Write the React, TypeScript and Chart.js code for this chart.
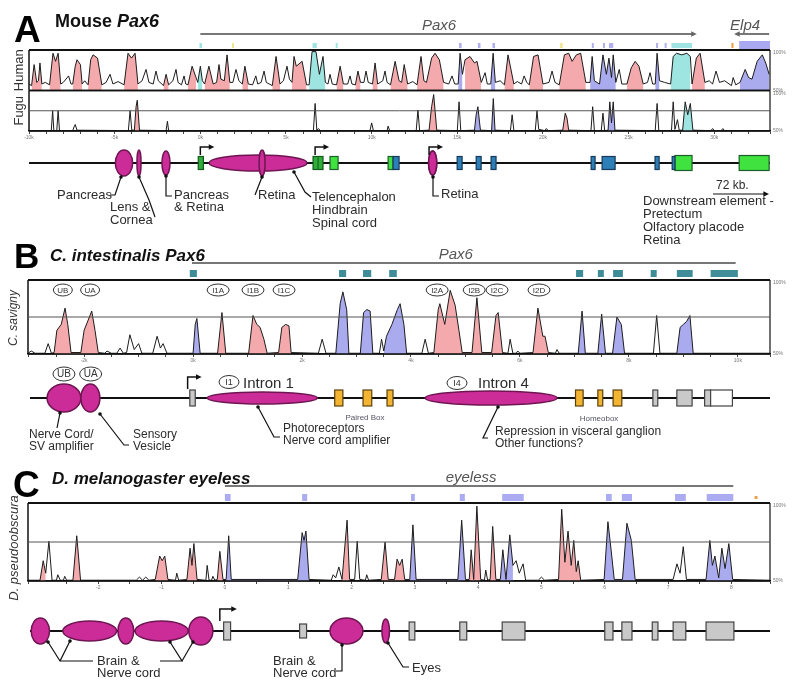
import React, { useEffect, useRef } from "react";
import { Chart, registerables } from "chart.js";
Chart.register(...registerables);

const SANS = '"Liberation Sans", Arial, Helvetica, sans-serif';
const INK = "#2b2b2b";
const PINK = "rgba(243,163,166,0.92)";
const BLUE = "rgba(163,163,238,0.92)";
const CYAN = "rgba(150,226,222,0.92)";
const MAG = "#cb2c98";
const MAG_EDGE = "#6e1652";

// ================= Panel A : Mouse Pax6 (kb) =================
const aTickVals = [-10, -5, 0, 5, 10, 15, 20, 25, 30];
const aTickText = ["-10k", "-5k", "0k", "5k", "10k", "15k", "20k", "25k", "30k"];
const humanCurve = [
  [-10, 58], [-9.85, 56], [-9.7, 82], [-9.55, 60], [-9.45, 62], [-9.36, 84], [-9.25, 58],
  [-9.05, 60], [-8.8, 57], [-8.6, 96], [-8.45, 86], [-8.3, 96], [-8.15, 58], [-8.0, 60], [-7.69, 68], [-7.55, 58],
  [-7.45, 58], [-7.3, 80], [-7.2, 88], [-7.0, 82], [-6.9, 58], [-6.75, 62],
  [-6.55, 57], [-6.4, 88], [-6.26, 94], [-6.0, 90], [-5.75, 57], [-5.5, 60], [-5.27, 70], [-5.1, 58],
  [-4.8, 61], [-4.45, 57], [-4.22, 96], [-4.02, 90], [-3.81, 96], [-3.64, 58], [-3.4, 62], [-3.17, 76], [-3.0, 60],
  [-2.75, 58], [-2.59, 74], [-2.45, 62], [-2.15, 56], [-2.0, 70], [-1.85, 57], [-1.6, 62], [-1.42, 76], [-1.3, 60],
  [-1.1, 57], [-0.95, 68], [-0.85, 58], [-0.72, 57], [-0.48, 80], [-0.25, 66], [-0.15, 60], [0.0, 80], [0.12, 62],
  [0.25, 58], [0.5, 80], [0.75, 58], [0.95, 60], [1.09, 82], [1.2, 64], [1.4, 62], [1.56, 94], [1.72, 60],
  [1.9, 60], [2.08, 76], [2.25, 62], [2.45, 58], [2.6, 80], [2.8, 58], [3.05, 57], [3.24, 68], [3.35, 58],
  [3.55, 60], [3.72, 74], [3.85, 60], [4.2, 56], [4.42, 92], [4.65, 58], [4.85, 62], [5.06, 80], [5.2, 64],
  [5.35, 60], [5.47, 92], [5.6, 80], [5.94, 86], [6.2, 57], [6.35, 57], [6.52, 98], [6.75, 98], [6.95, 70], [7.16, 92], [7.3, 60],
  [7.45, 58], [7.57, 70], [7.7, 58], [7.95, 57], [8.16, 80], [8.35, 58], [8.6, 58], [8.74, 68], [8.85, 58],
  [9.05, 57], [9.2, 74], [9.35, 60], [9.55, 60], [9.67, 74], [9.8, 60], [10.05, 58], [10.2, 84], [10.35, 58],
  [10.65, 62], [10.78, 74], [10.9, 60], [11.1, 57], [11.37, 86], [11.6, 62], [11.75, 60], [11.9, 82], [12.1, 58],
  [12.4, 61], [12.65, 57], [12.88, 92], [13.05, 62], [13.2, 60], [13.5, 90], [13.7, 96], [13.95, 88], [14.2, 60],
  [14.5, 58], [14.69, 68], [14.85, 58], [15.05, 58], [15.16, 96], [15.3, 70], [15.45, 88], [15.74, 92], [16.0, 84], [16.15, 86], [16.4, 60],
  [16.62, 72], [16.75, 58], [16.95, 58], [17.09, 96], [17.22, 60], [17.5, 62], [17.75, 57], [17.96, 94], [18.3, 58],
  [18.5, 61], [18.75, 58], [18.9, 68], [19.05, 60], [19.2, 57], [19.45, 92], [19.71, 94], [20.0, 58],
  [20.35, 60], [20.53, 74], [20.7, 60], [20.95, 57], [21.25, 94], [21.5, 96], [21.7, 86], [21.95, 94], [22.2, 96], [22.5, 60],
  [22.75, 60], [22.87, 92], [23.0, 62], [23.3, 58], [23.5, 94], [23.7, 70], [23.85, 90], [24.0, 66], [24.1, 94], [24.25, 60],
  [24.45, 76], [24.6, 58], [24.9, 58], [25.15, 78], [25.38, 86], [25.6, 80], [25.85, 58], [26.1, 60], [26.25, 72], [26.4, 58],
  [26.55, 58], [26.66, 96], [26.8, 62], [27.1, 60], [27.45, 58], [27.6, 92], [27.8, 96], [28.1, 94], [28.4, 96], [28.6, 92],
  [28.7, 58], [28.95, 90], [29.17, 96], [29.45, 60], [29.7, 62], [29.9, 58], [30.1, 74], [30.3, 60], [30.6, 62],
  [31.0, 56], [31.1, 66], [31.25, 57], [31.5, 60], [31.8, 76], [32.0, 66], [32.2, 64], [32.5, 86], [32.8, 94], [33.0, 84], [33.2, 70],
];
const humanPink = [[-9.85, -9.25], [-8.8, -8.15], [-7.45, -6.9], [-6.55, -5.75], [-4.45, -3.64], [-2.15, -1.85], [-0.72, -0.25], [0.25, 0.75], [0.95, 1.72], [2.45, 2.8], [4.2, 4.65], [5.35, 6.2], [7.95, 8.35], [9.05, 9.35], [10.05, 10.35], [11.1, 12.1], [12.65, 14.2], [15.45, 16.4], [17.75, 18.3], [19.2, 20.0], [20.95, 22.5], [24.9, 25.85], [28.7, 29.45]];
const humanBlue = [[15.05, 15.3], [16.95, 17.22], [22.75, 23.0], [23.3, 24.25], [26.55, 26.8], [31.5, 33.2]];
const humanCyan = [[-0.15, 0.12], [6.35, 7.3], [27.45, 28.6]];

const fuguCurve = [
  [-10, 50.5], [-8.7, 50.5], [-8.62, 75], [-8.55, 50.5], [-8.38, 50.5], [-8.3, 75], [-8.22, 50.5],
  [-7.45, 50.5], [-7.35, 56], [-7.3, 58], [-7.2, 51],
  [-4.2, 50.5], [-4.1, 75], [-4.0, 51], [-3.85, 51], [-3.75, 80], [-3.68, 88], [-3.55, 51],
  [-2.0, 50.5], [-1.92, 62], [-1.85, 50.5],
  [6.6, 50.5], [6.7, 84], [6.8, 51], [6.9, 53], [7.0, 50.5],
  [9.9, 50.5], [10.0, 60], [10.1, 50.5], [10.9, 50.5], [10.96, 56], [11.05, 50.5],
  [12.6, 50.5], [12.7, 76], [12.8, 50.5], [13.35, 51], [13.5, 80], [13.62, 95], [13.8, 51],
  [15.0, 50.5], [15.1, 86], [15.2, 50.5], [16.0, 51], [16.1, 70], [16.2, 80], [16.3, 60], [16.35, 51],
  [17.0, 50.5], [17.1, 90], [17.2, 51], [18.1, 50.5], [18.2, 70], [18.3, 50.5],
  [19.55, 50.5], [19.65, 75], [19.75, 52], [20.1, 50.5], [20.2, 53], [20.3, 50.5],
  [21.15, 51], [21.3, 72], [21.4, 66], [21.5, 51],
  [22.8, 50.5], [22.9, 80], [23.0, 50.5], [23.4, 50.5], [23.5, 72], [23.6, 50.5], [23.8, 51], [23.9, 86], [24.0, 60], [24.1, 86], [24.2, 51],
  [26.55, 50.5], [26.66, 84], [26.76, 50.5], [27.5, 50.5], [27.6, 86], [27.7, 52], [27.85, 64], [27.95, 51], [28.15, 51], [28.3, 86], [28.45, 70], [28.6, 84], [28.75, 51],
  [29.8, 50.5], [29.9, 53], [30.0, 50.5], [30.4, 50.5], [30.5, 53], [30.6, 50.5], [33.25, 50.5],
];
const fuguPink = [[-3.85, -3.55], [13.35, 13.8], [21.15, 21.5]];
const fuguBlue = [[16.0, 16.35], [17.0, 17.2], [23.8, 24.2]];
const fuguCyan = [[28.15, 28.75]];

const aGenes = [
  { name: "Pax6", start: 0, end: 28.8, dir: 1 },
  { name: "Elp4", start: 31.33, end: 33.2, dir: -1 },
];
const aMarks = [[-0.05, 0.1, "c"], [1.85, 1.95, "y"], [6.55, 6.8, "c"], [7.9, 8.0, "c"], [15.1, 15.25, "b"], [16.2, 16.35, "b"], [17.05, 17.2, "b"], [21.0, 21.15, "y"], [22.85, 22.95, "b"], [23.5, 23.6, "b"], [23.85, 24.1, "b"], [26.6, 26.7, "b"], [27.1, 27.2, "b"], [27.5, 28.7, "c"], [31.0, 31.1, "o"], [31.45, 33.25, "B"]];
const aEnhancers = [[-4.96, -3.95], [-3.7, -3.46], [-2.24, -1.77], [0.51, 6.23], [3.43, 3.78], [13.32, 13.8]];
const aEnhancerRy = [13, 13, 12, 8, 13, 12];
const aExonDarkGreen = [[-0.12, 0.18], [6.58, 7.16]];
const aExonGreen = [[7.57, 8.04], [10.96, 11.25], [27.7, 28.7], [31.45, 33.2]];
const aExonBlue = [[11.25, 11.6], [14.99, 15.28], [16.1, 16.39], [16.97, 17.26], [22.81, 23.04], [23.45, 24.21], [26.54, 26.78], [27.54, 27.7]];
const aTss = [0, 6.7, 13.35];

// ================= Panel B : C. intestinalis Pax6 (kb) =================
const bTickVals = [-2, 0, 2, 4, 6, 8, 10];
const bTickText = ["-2k", "0k", "2k", "4k", "6k", "8k", "10k"];
const bCurve = [
  [-3.03, 50.5], [-2.97, 52], [-2.9, 50.5], [-2.72, 50.5], [-2.66, 57], [-2.6, 50.5],
  [-2.55, 51], [-2.5, 66], [-2.42, 70], [-2.35, 81], [-2.3, 70], [-2.24, 51],
  [-2.06, 51], [-2.0, 66], [-1.86, 79], [-1.8, 66], [-1.74, 51],
  [-1.62, 50.5], [-1.58, 52], [-1.5, 50.5], [-1.4, 50.5], [-1.34, 54], [-1.28, 50.5], [-1.22, 51], [-1.16, 63], [-1.08, 53], [-1.0, 57], [-0.94, 50.5],
  [-0.74, 50.5], [-0.66, 62], [-0.6, 54], [-0.55, 57], [-0.48, 50.5],
  [0.0, 50.5], [0.04, 70], [0.07, 74], [0.13, 50.5],
  [0.45, 50.5], [0.53, 78], [0.6, 50.5],
  [1.02, 50.5], [1.1, 76], [1.17, 70], [1.23, 68], [1.3, 60], [1.36, 50.5],
  [1.57, 51], [1.63, 68], [1.7, 70], [1.76, 69], [1.8, 51],
  [2.3, 50.5], [2.37, 60], [2.44, 50.5],
  [2.62, 50.5], [2.7, 84], [2.75, 92], [2.82, 80], [2.86, 50.5],
  [3.07, 50.5], [3.13, 78], [3.19, 80], [3.25, 79], [3.3, 50.5],
  [3.42, 50.5], [3.46, 60], [3.5, 52], [3.55, 62], [3.65, 70], [3.75, 80], [3.8, 84], [3.87, 70], [3.92, 50.5],
  [4.2, 50.5], [4.26, 60], [4.32, 50.5],
  [4.42, 51], [4.5, 80], [4.53, 84], [4.62, 70], [4.72, 93], [4.81, 83], [4.88, 66], [4.94, 51],
  [5.12, 51], [5.21, 88], [5.3, 51],
  [5.48, 51], [5.56, 76], [5.6, 78], [5.68, 51],
  [5.78, 50.5], [5.82, 60], [5.87, 50.5], [5.93, 50.5], [5.96, 52], [6.0, 50.5],
  [6.24, 51], [6.33, 81], [6.42, 62], [6.46, 62], [6.52, 51],
  [6.65, 50.5], [6.68, 53], [6.72, 50.5],
  [7.07, 50.5], [7.14, 79], [7.2, 50.5],
  [7.43, 50.5], [7.5, 77], [7.57, 50.5],
  [7.7, 50.5], [7.78, 75], [7.86, 70], [7.92, 50.5],
  [8.45, 50.5], [8.51, 76], [8.57, 50.5],
  [8.88, 50.5], [8.94, 68], [9.0, 70], [9.06, 72], [9.12, 76], [9.18, 50.5],
  [10.59, 50.5],
];
const bPink = [[-2.55, -2.24], [-2.06, -1.74], [0.45, 0.6], [1.02, 1.36], [1.57, 1.8], [4.42, 4.94], [5.12, 5.3], [5.48, 5.68], [6.24, 6.52]];
const bBlue = [[0.0, 0.13], [2.62, 2.86], [3.07, 3.3], [3.5, 3.92], [7.07, 7.2], [7.43, 7.57], [7.7, 7.92], [8.88, 9.18]];
const bCyan: number[][] = [];
const bGene = { name: "Pax6", start: -0.02, end: 9.96 };
const bMarks = [[-0.06, 0.07], [2.68, 2.81], [3.12, 3.27], [3.6, 3.74], [7.03, 7.16], [7.43, 7.54], [7.71, 7.89], [8.4, 8.51], [8.88, 9.17], [9.5, 10.0]];
const bRegionNames = ["UB", "UA", "I1A", "I1B", "I1C", "I2A", "I2B", "I2C", "I2D"];
const bRegionAt = [-2.39, -1.89, 0.46, 1.1, 1.67, 4.48, 5.16, 5.58, 6.35];
const bEnhancers = [[-2.68, -2.06], [-2.06, -1.71], [0.26, 2.28], [4.26, 6.68]];
const bEnhancerRy = [14, 14, 6, 7];
const bExonGray = [[-0.06, 0.04], [8.44, 8.53], [8.88, 9.16], [9.39, 9.5]];
const bExonWhite = [[9.5, 9.9]];
const bExonOrange = [[2.6, 2.75], [3.12, 3.28], [3.56, 3.67], [7.02, 7.16], [7.43, 7.52], [7.71, 7.87]];
const bTss = [-0.1];

// ================= Panel C : D. melanogaster eyeless (kb) =================
const cTickVals = [-3, -2, -1, 0, 1, 2, 3, 4, 5, 6, 7, 8];
const cTickText = ["-3", "-2", "-1", "0", "1", "2", "3", "4", "5", "6", "7", "8"];
const cCurve = [
  [-3.11, 50.5], [-2.92, 50.5], [-2.87, 63], [-2.83, 55], [-2.78, 75.5], [-2.73, 50.5],
  [-2.66, 50.5], [-2.64, 54], [-2.6, 50.5], [-2.55, 50.5], [-2.53, 53], [-2.5, 50.5],
  [-2.4, 50.5], [-2.34, 79], [-2.28, 50.5],
  [-1.4, 50.5], [-1.35, 52.5], [-1.3, 50.5], [-1.25, 52.5], [-1.2, 50.5],
  [-1.1, 51], [-1.03, 66], [-0.99, 63], [-0.95, 66], [-0.9, 51],
  [-0.78, 50.5], [-0.76, 55], [-0.73, 50.5],
  [-0.6, 51], [-0.55, 71], [-0.52, 60], [-0.49, 74], [-0.44, 51],
  [-0.3, 50.5], [-0.28, 60], [-0.25, 50.5], [-0.21, 50.5], [-0.19, 53], [-0.16, 50.5],
  [-0.12, 51], [-0.08, 69], [-0.03, 51],
  [0.02, 51], [0.06, 79], [0.1, 51],
  [1.15, 51], [1.22, 81], [1.25, 76], [1.28, 82], [1.33, 51],
  [1.68, 50.5], [1.71, 54], [1.75, 52], [1.8, 59], [1.85, 51], [1.93, 89], [1.97, 51],
  [2.05, 51], [2.09, 75.5], [2.13, 51], [2.22, 50.5], [2.24, 54], [2.27, 50.5],
  [2.47, 51], [2.53, 75], [2.58, 51], [2.68, 51], [2.72, 64], [2.76, 60], [2.8, 64], [2.84, 51],
  [2.92, 51], [2.97, 86], [3.02, 51],
  [3.68, 51], [3.74, 89], [3.8, 51], [3.86, 51], [3.89, 70], [3.93, 51], [3.98, 98], [4.04, 51],
  [4.1, 50.5], [4.12, 57], [4.15, 50.5], [4.19, 51], [4.23, 85], [4.28, 51],
  [4.35, 51], [4.39, 70], [4.44, 51], [4.5, 79.6], [4.55, 60], [4.6, 63], [4.65, 55], [4.71, 61], [4.75, 50.5],
  [4.95, 50.5], [5.0, 52.5], [5.05, 50.5], [5.27, 51], [5.32, 96], [5.37, 62], [5.42, 82], [5.47, 60], [5.51, 76], [5.55, 56], [5.58, 63], [5.62, 50.5],
  [5.99, 51], [6.05, 88], [6.1, 70], [6.15, 51],
  [6.28, 51], [6.35, 87], [6.42, 76], [6.48, 51],
  [7.08, 51], [7.14, 61], [7.19, 55], [7.24, 72], [7.29, 51],
  [7.6, 51], [7.66, 76], [7.7, 60], [7.74, 66], [7.8, 52], [7.85, 71], [7.9, 58], [7.96, 74], [8.02, 51],
  [8.61, 50.5],
];
const cPink = [[-2.92, -2.83], [-2.4, -2.28], [-1.1, -0.9], [-0.6, -0.44], [-0.12, -0.03], [1.85, 1.97], [2.47, 2.58], [2.68, 2.84], [3.86, 4.04], [4.19, 4.28], [5.27, 5.62]];
const cBlue = [[0.02, 0.1], [1.15, 1.33], [2.92, 3.02], [3.68, 3.8], [4.35, 4.55], [5.99, 6.15], [6.28, 6.48], [7.6, 8.02]];
const cCyan: number[][] = [];
const cGene = { name: "eyeless", start: 0, end: 8.03 };
const cMarks = [[0, 0.09], [1.22, 1.3], [2.94, 3.0], [3.71, 3.79], [4.38, 4.72], [6.02, 6.11], [6.27, 6.43], [7.11, 7.28], [7.61, 8.03]];
const cOrangeDot = [8.39];
const cEnhancers = [[-3.06, -2.77], [-2.56, -1.71], [-1.69, -1.44], [-1.42, -0.58], [-0.57, -0.19], [1.66, 2.18], [2.48, 2.6]];
const cEnhancerRy = [13, 10, 13, 10, 14, 13, 12];
const cExons = [[-0.02, 0.09], [1.18, 1.29], [2.91, 3.0], [3.71, 3.82], [4.38, 4.74], [6.0, 6.13], [6.27, 6.43], [6.75, 6.84], [7.08, 7.28], [7.6, 8.04]];
const cExonH = [18, 14, 18, 18, 18, 18, 18, 18, 18, 18];
const cTss = [-0.08];

// ================= drawing helpers =================
function ln(ctx: any, pts: number[][], w = 1, c = "#111") {
  ctx.beginPath();
  ctx.moveTo(pts[0][0], pts[0][1]);
  for (let i = 1; i < pts.length; i++) ctx.lineTo(pts[i][0], pts[i][1]);
  ctx.lineWidth = w;
  ctx.strokeStyle = c;
  ctx.stroke();
}
function head(ctx: any, x: number, y: number, dir: number, s = 5, c = "#111") {
  ctx.beginPath();
  ctx.moveTo(x, y);
  ctx.lineTo(x - dir * s * 1.4, y - s * 0.7);
  ctx.lineTo(x - dir * s * 1.4, y + s * 0.7);
  ctx.closePath();
  ctx.fillStyle = c;
  ctx.fill();
}
function ell(ctx: any, x1: number, x2: number, cy: number, ry: number, fill = MAG, edge = MAG_EDGE) {
  ctx.beginPath();
  ctx.ellipse((x1 + x2) / 2, cy, Math.max(Math.abs(x2 - x1) / 2, 1.5), ry, 0, 0, Math.PI * 2);
  ctx.fillStyle = fill;
  ctx.fill();
  ctx.lineWidth = 1.5;
  ctx.strokeStyle = edge;
  ctx.stroke();
}
function rect(ctx: any, x1: number, x2: number, cy: number, h: number, fill: string, edge = "#333", lw = 1.2) {
  ctx.fillStyle = fill;
  ctx.fillRect(x1, cy - h / 2, x2 - x1, h);
  ctx.lineWidth = lw;
  ctx.strokeStyle = edge;
  ctx.strokeRect(x1, cy - h / 2, x2 - x1, h);
}
function tss(ctx: any, x: number, y0: number, y1: number, len: number) {
  ln(ctx, [[x, y0], [x, y1], [x + len - 5, y1]], 1.5);
  head(ctx, x + len, y1, 1, 4);
}
function dot(ctx: any, x: number, y: number, r = 1.8) {
  ctx.beginPath();
  ctx.arc(x, y, r, 0, Math.PI * 2);
  ctx.fillStyle = "#111";
  ctx.fill();
}
function txt(ctx: any, s: string, x: number, y: number, size: number, o: any = {}) {
  ctx.font = `${o.italic ? "italic " : ""}${o.bold ? "bold " : ""}${size}px ${SANS}`;
  ctx.fillStyle = o.color || INK;
  ctx.textAlign = o.align || "left";
  ctx.textBaseline = o.base || "alphabetic";
  ctx.fillText(s, x, y);
  return ctx.measureText(s).width;
}
function vtxt(ctx: any, s: string, x: number, y: number, size: number, italic = false) {
  ctx.save();
  ctx.translate(x, y);
  ctx.rotate(-Math.PI / 2);
  txt(ctx, s, 0, 0, size, { italic, align: "center", base: "middle", color: "#333" });
  ctx.restore();
}
function oval(ctx: any, s: string, cx: number, cy: number, w: number, h: number, size: number) {
  ctx.beginPath();
  ctx.ellipse(cx, cy, w / 2, h / 2, 0, 0, Math.PI * 2);
  ctx.fillStyle = "#fff";
  ctx.fill();
  ctx.lineWidth = 1;
  ctx.strokeStyle = "#333";
  ctx.stroke();
  txt(ctx, s, cx, cy + 0.5, size, { align: "center", base: "middle", color: "#333" });
}
function span(ctx: any, x1: number, x2: number, y: number, dir: number, name: string, size: number) {
  ln(ctx, [[x1, y], [x2, y]], 2, "#777");
  if (dir > 0) head(ctx, x2 + 3, y, 1, 4, "#666");
  if (dir < 0) head(ctx, x1 - 3, y, -1, 4, "#666");
  txt(ctx, name, (x1 + x2) / 2 - 8, y - 4, size, { italic: true, align: "center", color: "#555" });
}
function frame(ctx: any, ys: any, L: number, R: number, mid: boolean, topW = 2) {
  ln(ctx, [[L, ys.top], [R, ys.top]], topW);
  ln(ctx, [[L, ys.bottom], [R, ys.bottom]], 1.5);
  ln(ctx, [[L, ys.top], [L, ys.bottom]], 1.5);
  ln(ctx, [[R, ys.top], [R, ys.bottom]], 1.2);
  if (mid) ln(ctx, [[L, ys.getPixelForValue(75)], [R, ys.getPixelForValue(75)]], 1, "#555");
  txt(ctx, "100%", R + 3, ys.top + 3, 5, { color: "#777", base: "middle" });
  txt(ctx, "50%", R + 3, ys.bottom, 5, { color: "#777", base: "middle" });
}

// ================= chart datasets =================
function track(curve: number[][], pink: number[][], blue: number[][], cyan: number[][], axis: string) {
  const line = {
    data: curve.map(([x, y]) => ({ x, y })),
    borderColor: "#1c1c1c",
    borderWidth: 1,
    pointRadius: 0,
    fill: false,
    yAxisID: axis,
  };
  const f = (ranges: number[][], color: string) => ({
    data: curve.map(([x, y]) => ({ x, y: ranges.some(([a, b]) => x >= a - 1e-9 && x <= b + 1e-9) ? y : null })),
    backgroundColor: color,
    borderColor: "rgba(0,0,0,0)",
    borderWidth: 0,
    pointRadius: 0,
    fill: "start",
    spanGaps: false,
    yAxisID: axis,
  });
  return { line, fills: [f(pink, PINK), f(blue, BLUE), f(cyan, CYAN)] };
}

function xAxis(min: number, max: number, step: number, vals: number[], texts: string[]) {
  return {
    type: "linear",
    min,
    max,
    position: "bottom",
    ticks: {
      stepSize: step,
      autoSkip: false,
      maxRotation: 0,
      padding: 1,
      font: { size: 5, family: SANS },
      color: "#777",
      callback: (v: number) => {
        const i = vals.findIndex((t) => Math.abs(t - v) < 1e-6);
        return i >= 0 ? texts[i] : "";
      },
    },
    grid: { drawOnChartArea: false, drawTicks: true, tickLength: 3, color: "#444" },
    border: { display: true, color: "#111", width: 1.5 },
  };
}

const baseOptions = (padding: any, scales: any) => ({
  responsive: false,
  animation: false,
  devicePixelRatio: 1,
  layout: { padding },
  plugins: { legend: { display: false }, tooltip: { enabled: false }, title: { display: false } },
  elements: { line: { tension: 0 }, point: { radius: 0 } },
  scales,
});

// ---------- Panel A config ----------
function configA() {
  const h = track(humanCurve, humanPink, humanBlue, humanCyan, "yH");
  const f = track(fuguCurve, fuguPink, fuguBlue, fuguCyan, "yF");
  const plugin = {
    id: "panelA",
    afterDatasetsDraw(chart: any) {
      const ctx = chart.ctx;
      const xs = chart.scales.x;
      const X = (v: number) => xs.getPixelForValue(v);
      const yH = chart.scales.yH;
      const yF = chart.scales.yF;
      const L = chart.chartArea.left;
      const R = chart.chartArea.right;
      ctx.save();
      frame(ctx, yF, L, R, true, 1.5);
      frame(ctx, yH, L, R, false, 2);
      vtxt(ctx, "Human", 19, (yH.top + yH.bottom) / 2, 13);
      vtxt(ctx, "Fugu", 19, (yF.top + yF.bottom) / 2, 13);
      // title
      txt(ctx, "A", 14, 42, 37, { bold: true, color: "#000" });
      const w = txt(ctx, "Mouse ", 55, 27, 18, { bold: true, color: "#111" });
      txt(ctx, "Pax6", 55 + w, 27, 18, { bold: true, italic: true, color: "#111" });
      // gene spans
      for (const g of aGenes) span(ctx, X(g.start), X(g.end), 34, g.dir, g.name, 15);
      // conservation markers
      const mc: any = { c: "#9fe3e3", y: "#f0e68c", b: "#b0b0f0", o: "#f0a040", B: "#a9a9f2" };
      for (const [a, b, t] of aMarks as any[]) {
        ctx.fillStyle = mc[t];
        if (t === "B") ctx.fillRect(X(a), 41, X(b) - X(a), 8);
        else ctx.fillRect(X(a), 43, Math.max(X(b) - X(a), 2), 5);
      }
      // gene diagram
      const gy = 163;
      ln(ctx, [[L, gy], [R, gy]], 2, "#111");
      aEnhancers.forEach(([a, b], i) => ell(ctx, X(a), X(b), gy, aEnhancerRy[i]));
      for (const [a, b] of aExonDarkGreen) {
        rect(ctx, X(a), X(b), gy, 13, "#2fae3a", "#145a1c");
        if (X(b) - X(a) > 7) ln(ctx, [[X(a) + (X(b) - X(a)) / 2, gy - 6], [X(a) + (X(b) - X(a)) / 2, gy + 6]], 1, "#145a1c");
      }
      for (const [a, b] of aExonGreen) rect(ctx, X(a), X(b), gy, X(b) - X(a) > 12 ? 15 : 13, "#3fe23f", "#1d5e2a");
      for (const [a, b] of aExonBlue) rect(ctx, X(a), X(b), gy, 13, "#2d7fb8", "#183a5a");
      ell(ctx, X(aEnhancers[5][0]), X(aEnhancers[5][1]), gy, aEnhancerRy[5], "rgba(203,44,152,0.75)");
      for (const t of aTss) tss(ctx, X(t), gy - 8, gy - 16, 14);
      // labels
      const lab = (s: string, x: number, y: number) => txt(ctx, s, x, y, 13, { color: INK });
      lab("Pancreas", 57, 199);
      ln(ctx, [[110, 195], [115, 195], [121, 177]], 1.2);
      dot(ctx, 121, 177);
      lab("Lens &", 110, 211);
      lab("Cornea", 110, 224);
      ln(ctx, [[155, 217], [149, 200], [139, 177]], 1.2);
      dot(ctx, 139, 177);
      lab("Pancreas", 174, 199);
      lab("& Retina", 174, 211);
      ln(ctx, [[172, 196], [166, 196], [166, 176]], 1.2);
      dot(ctx, 166, 176);
      lab("Retina", 258, 199);
      ln(ctx, [[255, 195], [262, 177]], 1.2);
      dot(ctx, 262, 177);
      lab("Telencephalon", 312, 201);
      lab("Hindbrain", 312, 214);
      lab("Spinal cord", 312, 227);
      ln(ctx, [[311, 197], [305, 192], [294, 172]], 1.2);
      dot(ctx, 294, 172);
      lab("Retina", 441, 198);
      ln(ctx, [[439, 196], [433, 196], [433, 177]], 1.2);
      dot(ctx, 433, 177);
      txt(ctx, "72 kb.", 716, 189, 12, { color: INK });
      ln(ctx, [[713, 194], [764, 194]], 1.2);
      head(ctx, 769, 194, 1, 4);
      lab("Downstream element -", 643, 205);
      lab("Pretectum", 643, 218);
      lab("Olfactory placode", 643, 231);
      lab("Retina", 643, 244);
      ctx.restore();
    },
  };
  return {
    type: "line",
    data: { datasets: [h.line, f.line, ...h.fills, ...f.fills] },
    options: baseOptions(
      { left: 29, right: 30, top: 50, bottom: 108 },
      {
        x: xAxis(-10, 33.25, 1, aTickVals, aTickText),
        yF: { type: "linear", min: 50, max: 100, position: "left", stack: "tracks", stackWeight: 1, display: false },
        yH: { type: "linear", min: 50, max: 100, position: "left", stack: "tracks", stackWeight: 1, display: false },
      }
    ),
    plugins: [plugin],
  };
}

// ---------- Panel B config ----------
function configB() {
  const T = 236;
  const Y = (a: number) => a - T;
  const t = track(bCurve, bPink, bBlue, bCyan, "y");
  const plugin = {
    id: "panelB",
    afterDatasetsDraw(chart: any) {
      const ctx = chart.ctx;
      const xs = chart.scales.x;
      const X = (v: number) => xs.getPixelForValue(v);
      const ys = chart.scales.y;
      const L = chart.chartArea.left;
      const R = chart.chartArea.right;
      ctx.save();
      frame(ctx, ys, L, R, true, 2);
      vtxt(ctx, "C. savigny", 14, Y(318), 12, true);
      txt(ctx, "B", 14, Y(268), 35, { bold: true, color: "#000" });
      txt(ctx, "C. intestinalis Pax6", 50, Y(261), 17, { bold: true, italic: true, color: "#111" });
      span(ctx, X(bGene.start), X(bGene.end), Y(263), 0, bGene.name, 15);
      ctx.fillStyle = "#3f8d98";
      for (const [a, b] of bMarks) ctx.fillRect(X(a), Y(270), X(b) - X(a), 7);
      bRegionNames.forEach((s, i) => oval(ctx, s, X(bRegionAt[i]), Y(290), s.length > 2 ? 22 : 19, 12, 8));
      // gene diagram
      const gy = Y(398);
      ln(ctx, [[L + 2, gy], [R, gy]], 2, "#111");
      bEnhancers.forEach(([a, b], i) => ell(ctx, X(a), X(b), gy, bEnhancerRy[i]));
      for (const [a, b] of bExonGray) rect(ctx, X(a), X(b), gy, 16, "#c9c9c9", "#444");
      for (const [a, b] of bExonWhite) rect(ctx, X(a), X(b), gy, 16, "#ffffff", "#444");
      for (const [a, b] of bExonOrange) rect(ctx, X(a), X(b), gy, 16, "#f2b431", "#5a4210");
      for (const v of bTss) tss(ctx, X(v), gy - 9, gy - 21, 14);
      oval(ctx, "UB", X(-2.37), Y(374), 22, 14, 10);
      oval(ctx, "UA", X(-1.88), Y(374), 22, 14, 10);
      oval(ctx, "I1", 229, Y(382), 20, 13, 9);
      txt(ctx, "Intron 1", 243, Y(388), 15, { color: INK });
      oval(ctx, "I4", 457, Y(383), 20, 13, 9);
      txt(ctx, "Intron 4", 478, Y(388), 15, { color: INK });
      txt(ctx, "Paired Box", 365, Y(420), 8, { color: "#556", align: "center" });
      txt(ctx, "Homeobox", 599, Y(421), 8, { color: "#556", align: "center" });
      const lab = (s: string, x: number, y: number) => txt(ctx, s, x, Y(y), 12, { color: INK });
      lab("Nerve Cord/", 29, 438);
      lab("SV amplifier", 29, 450);
      ln(ctx, [[57, Y(428)], [60, Y(413)]], 1.2);
      dot(ctx, 60, Y(413));
      lab("Sensory", 133, 438);
      lab("Vesicle", 133, 450);
      ln(ctx, [[129, Y(445)], [124, Y(445)], [100, Y(414)]], 1.2);
      dot(ctx, 100, Y(414));
      lab("Photoreceptors", 283, 432);
      lab("Nerve cord amplifier", 283, 444);
      ln(ctx, [[280, Y(437)], [274, Y(437)], [258, Y(407)]], 1.2);
      dot(ctx, 258, Y(407));
      lab("Repression in visceral ganglion", 495, 435);
      lab("Other functions?", 495, 447);
      ln(ctx, [[488, Y(438)], [483, Y(438)], [498, Y(407)]], 1.2);
      dot(ctx, 498, Y(407));
      ctx.restore();
    },
  };
  return {
    type: "line",
    data: { datasets: [t.line, ...t.fills] },
    options: baseOptions(
      { left: 28, right: 30, top: 44, bottom: 95 },
      {
        x: xAxis(-3.03, 10.59, 0.5, bTickVals, bTickText),
        y: { type: "linear", min: 50, max: 100, position: "left", display: false },
      }
    ),
    plugins: [plugin],
  };
}

// ---------- Panel C config ----------
function configC() {
  const T = 452;
  const Y = (a: number) => a - T;
  const t = track(cCurve, cPink, cBlue, cCyan, "y");
  const plugin = {
    id: "panelC",
    afterDatasetsDraw(chart: any) {
      const ctx = chart.ctx;
      const xs = chart.scales.x;
      const X = (v: number) => xs.getPixelForValue(v);
      const ys = chart.scales.y;
      const L = chart.chartArea.left;
      const R = chart.chartArea.right;
      ctx.save();
      frame(ctx, ys, L, R, true, 2);
      vtxt(ctx, "D. pseudoobscura", 14, Y(548), 13, true);
      txt(ctx, "C", 13, Y(497), 37, { bold: true, color: "#000" });
      txt(ctx, "D. melanogaster eyeless", 52, Y(484), 17, { bold: true, italic: true, color: "#111" });
      span(ctx, X(cGene.start), X(cGene.end), Y(486), 0, cGene.name, 15);
      ctx.fillStyle = "#ababf2";
      for (const [a, b] of cMarks) ctx.fillRect(X(a), Y(494), X(b) - X(a), 7);
      ctx.fillStyle = "#e9a050";
      for (const v of cOrangeDot) ctx.fillRect(X(v) - 1.5, Y(496), 3, 3);
      // gene diagram
      const gy = Y(631);
      ln(ctx, [[L + 2, gy], [R, gy]], 2, "#111");
      cEnhancers.forEach(([a, b], i) => ell(ctx, X(a), X(b), gy, cEnhancerRy[i]));
      cExons.forEach(([a, b], i) => rect(ctx, X(a), X(b), gy, cExonH[i], "#c9c9c9", "#444"));
      for (const v of cTss) tss(ctx, X(v), gy - 10, gy - 22, 17);
      const lab = (s: string, x: number, y: number) => txt(ctx, s, x, Y(y), 13, { color: INK });
      lab("Brain &", 97, 665);
      lab("Nerve cord", 97, 677);
      ln(ctx, [[93, Y(661)], [60, Y(661)], [48, Y(642)]], 1.2);
      ln(ctx, [[60, Y(661)], [70, Y(641)]], 1.2);
      dot(ctx, 48, Y(642));
      dot(ctx, 70, Y(641));
      ln(ctx, [[160, Y(661)], [182, Y(661)], [170, Y(642)]], 1.2);
      ln(ctx, [[182, Y(661)], [193, Y(642)]], 1.2);
      dot(ctx, 170, Y(642));
      dot(ctx, 193, Y(642));
      lab("Brain &", 273, 665);
      lab("Nerve cord", 273, 677);
      ln(ctx, [[336, Y(671)], [342, Y(671)], [342, Y(645)]], 1.2);
      dot(ctx, 342, Y(645));
      lab("Eyes", 412, 672);
      ln(ctx, [[409, Y(667)], [403, Y(667)], [388, Y(643)]], 1.2);
      dot(ctx, 388, Y(643));
      ctx.restore();
    },
  };
  return {
    type: "line",
    data: { datasets: [t.line, ...t.fills] },
    options: baseOptions(
      { left: 28, right: 30, top: 51, bottom: 94 },
      {
        x: xAxis(-3.11, 8.61, 0.5, cTickVals, cTickText),
        y: { type: "linear", min: 50, max: 100, position: "left", display: false },
      }
    ),
    plugins: [plugin],
  };
}

function Panel({ make, top, height }: { make: () => any; top: number; height: number }) {
  const ref = useRef<HTMLCanvasElement>(null);
  useEffect(() => {
    const chart = new Chart(ref.current as HTMLCanvasElement, make());
    return () => chart.destroy();
  }, []);
  return (
    <div style={{ position: "absolute", left: 0, top, width: 800, height }}>
      <canvas ref={ref} width={800} height={height} style={{ width: 800, height, display: "block" }} />
    </div>
  );
}

export default function App() {
  return (
    <div style={{ position: "absolute", left: 0, top: 0, width: 800, height: 686, background: "#fff", overflow: "hidden" }}>
      <Panel make={configA} top={0} height={250} />
      <Panel make={configB} top={236} height={224} />
      <Panel make={configC} top={452} height={234} />
    </div>
  );
}
